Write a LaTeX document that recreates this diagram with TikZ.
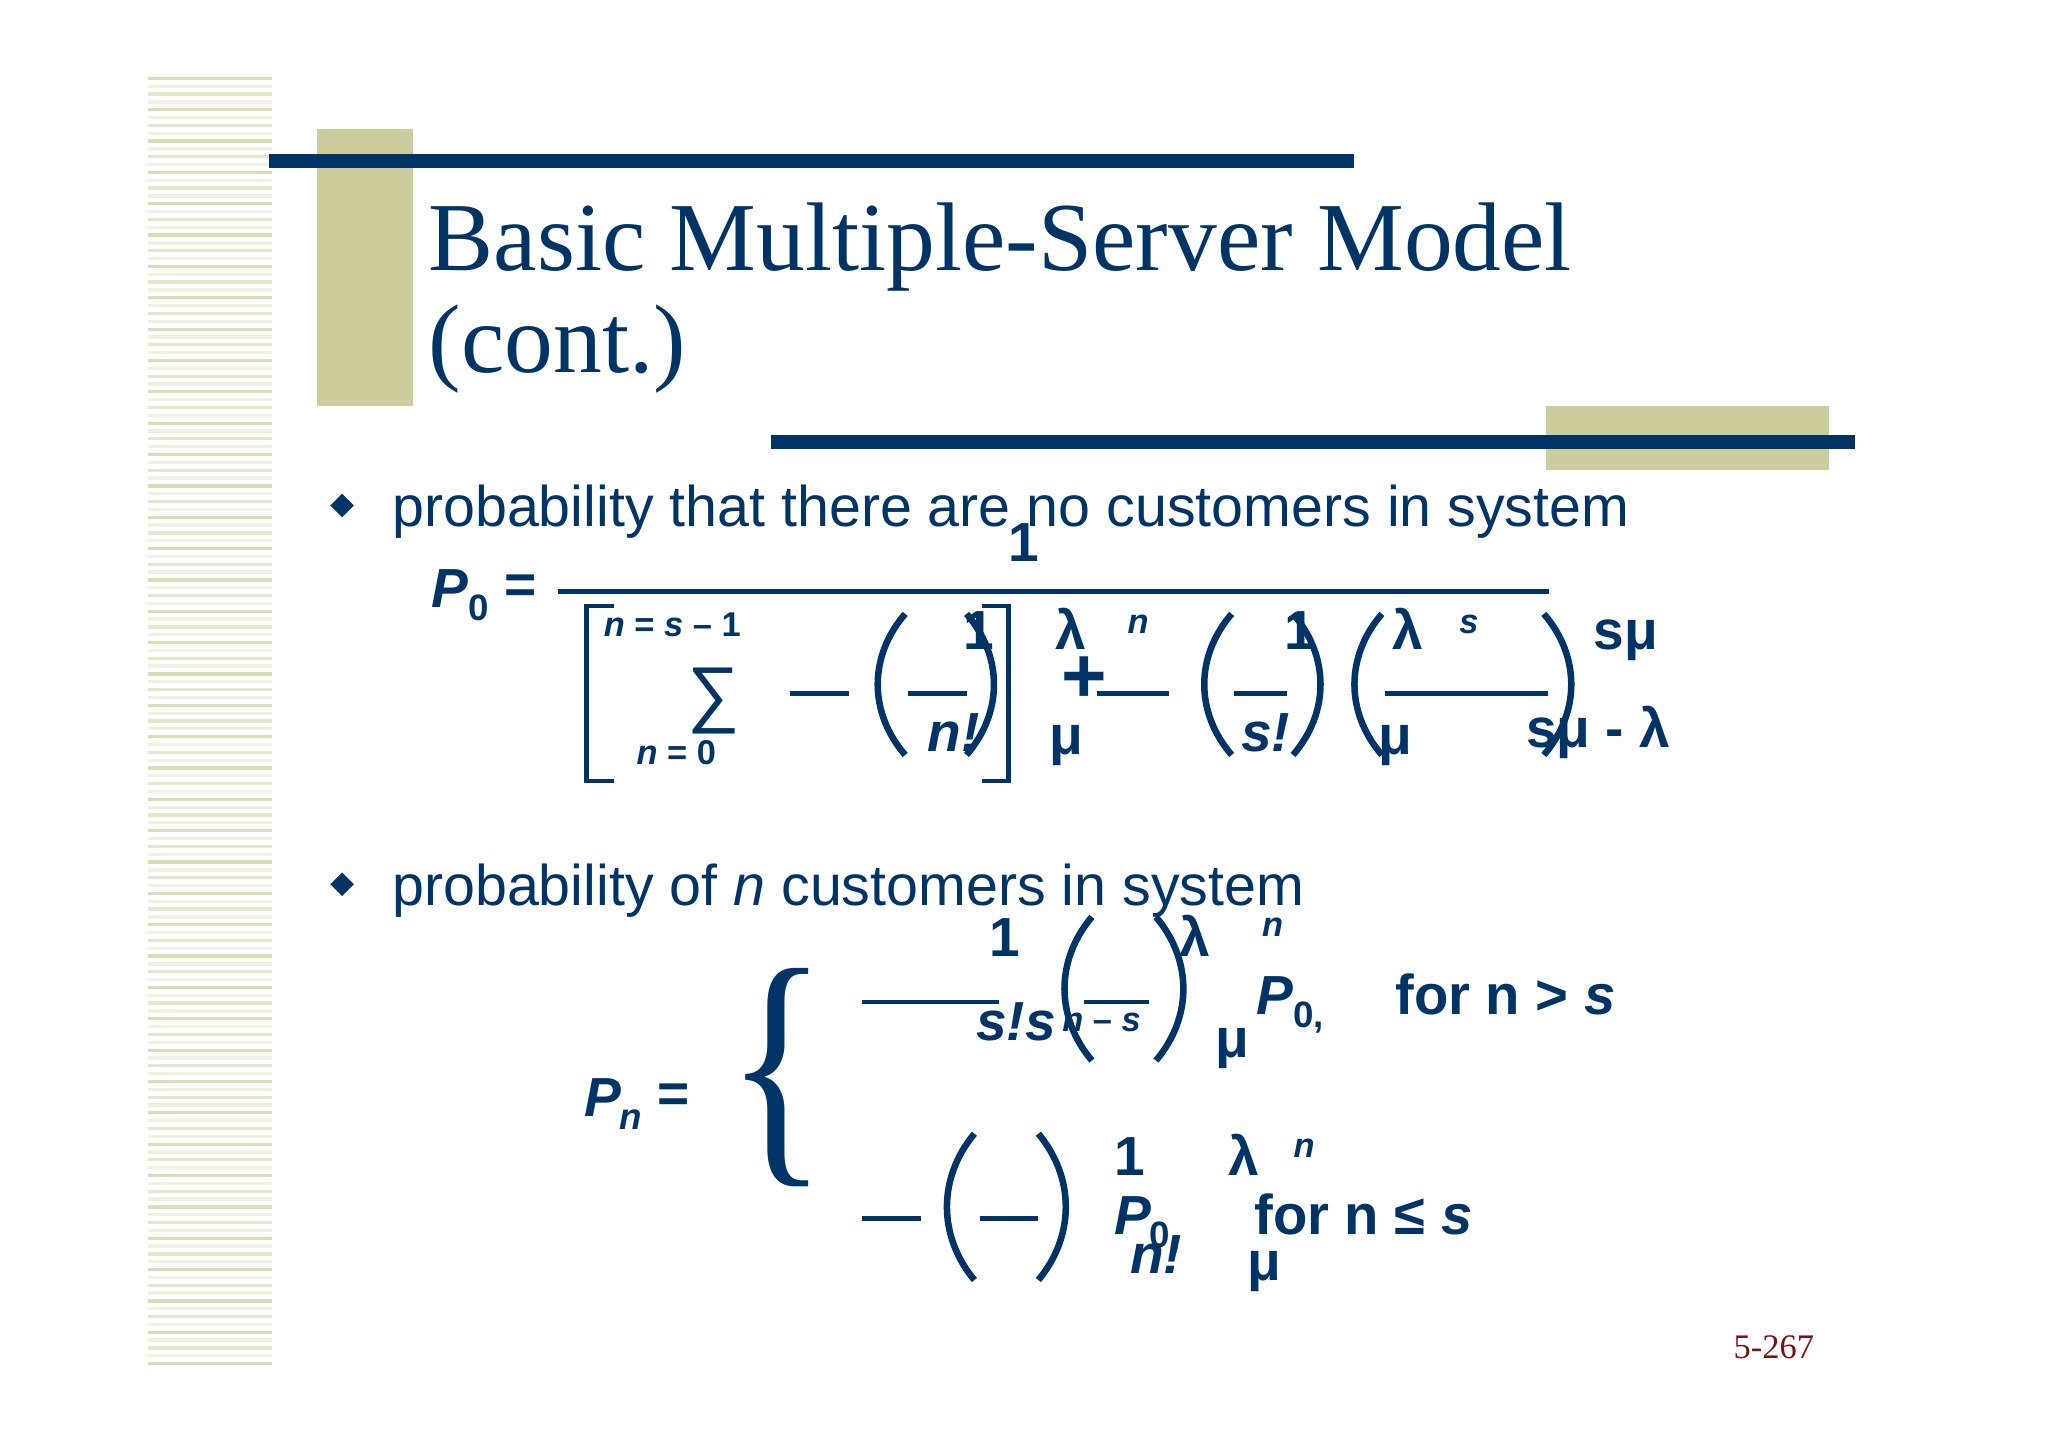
\documentclass[tikz,border=0pt]{standalone}
\usepackage{fontspec}
\setmainfont{Liberation Serif}
\setsansfont{Liberation Sans}
\definecolor{navy}{RGB}{0,51,102}
\definecolor{olive}{RGB}{205,204,156}
\definecolor{stripe}{RGB}{220,220,185}
\definecolor{dred}{RGB}{120,20,20}
\newcommand\TT[4]{\node[anchor=base west,inner sep=0,text=navy,font=#3] at (#1,#2) {#4};}
\newcommand\LP[3]{\draw[paren] ({#1+28},#2) .. controls (#1,{#2+(#3-#2)*0.3}) and (#1,{#3-(#3-#2)*0.3}) .. ({#1+28},#3);}
\newcommand\RP[3]{\draw[paren] (#1,#2) .. controls ({#1+28},{#2+(#3-#2)*0.3}) and ({#1+28},{#3-(#3-#2)*0.3}) .. (#1,#3);}
\newcommand\HL[3]{\draw[bar] (#1,#3) -- (#2,#3);}
\begin{document}
\begin{tikzpicture}[x=0.02cm,y=-0.02cm,
  paren/.style={navy,line width=0.1cm},
  bar/.style={navy,line width=0.07cm}]
\useasboundingbox[fill=white] (0,0) rectangle (1568,1108);
\foreach \i in {0,...,164}{
  \pgfmathsetmacro\op{mod(\i,4)==0 ? 1 : (mod(\i,4)==2 ? 0.7 : 0.4)}
  \draw[stripe,line width=0.05cm,opacity=\op] (113,{60+\i*6}) -- (208,{60+\i*6});
}
\fill[olive] (243,99) rectangle (316,311);
\fill[navy] (206,118) rectangle (1037,129);
\node[anchor=base west,inner sep=0,text=navy,font=\fontsize{42.5}{48}\selectfont] at (328,207) {Basic Multiple-Server Model};
\node[anchor=base west,inner sep=0,text=navy,font=\fontsize{42.5}{48}\selectfont] at (328,285) {(cont.)};
\fill[olive] (1184,311) rectangle (1400,360);
\fill[navy] (590,333) rectangle (1420,344);
\fill[navy] (262,378) -- (271,387) -- (262,396) -- (253,387) -- cycle;
\TT{300}{403}{\sffamily\fontsize{25}{28}\selectfont}{probability that there are no customers in system}
\TT{330}{465}{\sffamily\bfseries\itshape\fontsize{24}{28}\selectfont}{P}
\TT{358}{475}{\sffamily\bfseries\fontsize{16}{18}\selectfont}{0}
\TT{386}{462}{\sffamily\bfseries\fontsize{24}{28}\selectfont}{=}
\TT{772}{430}{\sffamily\bfseries\fontsize{24}{28}\selectfont}{1}
\HL{427}{1186}{453}
\draw[paren,line width=0.07cm] (470,464) -- (449,464) -- (449,598) -- (470,598);
\draw[paren,line width=0.07cm] (752,464) -- (772,464) -- (772,598) -- (752,598);
\TT{462}{487}{\sffamily\bfseries\fontsize{15}{18}\selectfont}{\itshape n\upshape{} = \itshape s\upshape{} – 1}
\TT{526}{550}{\sffamily\fontsize{32}{36}\selectfont}{∑}
\TT{487}{585}{\sffamily\bfseries\fontsize{15}{18}\selectfont}{\itshape n\upshape{} = 0}
\HL{605}{650}{531}
\LP{665}{470}{578}\RP{740}{470}{578}
\TT{737}{497}{\sffamily\bfseries\fontsize{24}{28}\selectfont}{1}
\HL{695}{740}{531}
\TT{710}{575}{\sffamily\bfseries\itshape\fontsize{24}{28}\selectfont}{n!}
\TT{808}{497}{\sffamily\bfseries\fontsize{24}{28}\selectfont}{λ}
\TT{863}{485}{\sffamily\bfseries\itshape\fontsize{15}{18}\selectfont}{n}
\TT{812}{538}{\sffamily\bfseries\fontsize{34}{38}\selectfont}{+}
\TT{803}{578}{\sffamily\bfseries\fontsize{24}{28}\selectfont}{μ}
\HL{840}{895}{531}
\LP{915}{470}{578}\RP{990}{470}{578}
\TT{983}{497}{\sffamily\bfseries\fontsize{24}{28}\selectfont}{1}
\HL{945}{985}{531}
\TT{950}{575}{\sffamily\bfseries\itshape\fontsize{24}{28}\selectfont}{s!}
\LP{1030}{470}{578}\RP{1182}{470}{578}
\TT{1066}{497}{\sffamily\bfseries\fontsize{24}{28}\selectfont}{λ}
\TT{1117}{485}{\sffamily\bfseries\itshape\fontsize{15}{18}\selectfont}{s}
\HL{1060}{1185}{531}
\TT{1055}{578}{\sffamily\bfseries\fontsize{24}{28}\selectfont}{μ}
\TT{1220}{497}{\sffamily\bfseries\fontsize{24}{28}\selectfont}{sμ}
\TT{1168}{572}{\sffamily\bfseries\fontsize{24}{28}\selectfont}{sμ - λ}
\fill[navy] (262,668) -- (271,677) -- (262,686) -- (253,677) -- cycle;
\TT{300}{693}{\sffamily\fontsize{25}{28}\selectfont}{probability of \itshape n\upshape{} customers in system}
\TT{447}{855}{\sffamily\bfseries\itshape\fontsize{24}{28}\selectfont}{P}
\TT{474}{865}{\sffamily\bfseries\itshape\fontsize{16}{18}\selectfont}{n}
\TT{503}{852}{\sffamily\bfseries\fontsize{24}{28}\selectfont}{=}
\node[anchor=center,inner sep=0,text=navy,xscale=0.8,font=\fontsize{115}{115}\selectfont] at (595,825) {\{};
\TT{757}{732}{\sffamily\bfseries\fontsize{24}{28}\selectfont}{1}
\HL{660}{765}{767}
\TT{747}{797}{\sffamily\bfseries\itshape\fontsize{24}{28}\selectfont}{s!s}
\TT{813}{790}{\sffamily\bfseries\itshape\fontsize{15}{18}\selectfont}{n\upshape{} – \itshape s}
\LP{808}{702}{812}\RP{885}{702}{812}
\HL{830}{880}{767}
\TT{903}{732}{\sffamily\bfseries\fontsize{24}{28}\selectfont}{λ}
\TT{966}{717}{\sffamily\bfseries\itshape\fontsize{15}{18}\selectfont}{n}
\TT{930}{810}{\sffamily\bfseries\fontsize{24}{28}\selectfont}{μ}
\TT{962}{777}{\sffamily\bfseries\itshape\fontsize{24}{28}\selectfont}{P}
\TT{990}{787}{\sffamily\bfseries\fontsize{16}{18}\selectfont}{0,}
\TT{1068}{777}{\sffamily\bfseries\fontsize{24.5}{28}\selectfont}{for n > \itshape s}
\HL{660}{705}{933}
\LP{718}{868}{980}\RP{795}{868}{980}
\HL{750}{795}{933}
\TT{853}{900}{\sffamily\bfseries\fontsize{24}{28}\selectfont}{1}
\TT{940}{900}{\sffamily\bfseries\fontsize{24}{28}\selectfont}{λ}
\TT{990}{886}{\sffamily\bfseries\itshape\fontsize{15}{18}\selectfont}{n}
\TT{853}{945}{\sffamily\bfseries\itshape\fontsize{24}{28}\selectfont}{P}
\TT{880}{955}{\sffamily\bfseries\fontsize{16}{18}\selectfont}{0,}
\TT{865}{975}{\sffamily\bfseries\itshape\fontsize{24}{28}\selectfont}{n!}
\TT{955}{980}{\sffamily\bfseries\fontsize{24}{28}\selectfont}{μ}
\TT{960}{945}{\sffamily\bfseries\fontsize{24.5}{28}\selectfont}{for n ≤ \itshape s}
\node[anchor=base west,inner sep=0,text=dred,font=\fontsize{15}{18}\selectfont] at (1327,1040) {5-267};
\end{tikzpicture}
\end{document}
